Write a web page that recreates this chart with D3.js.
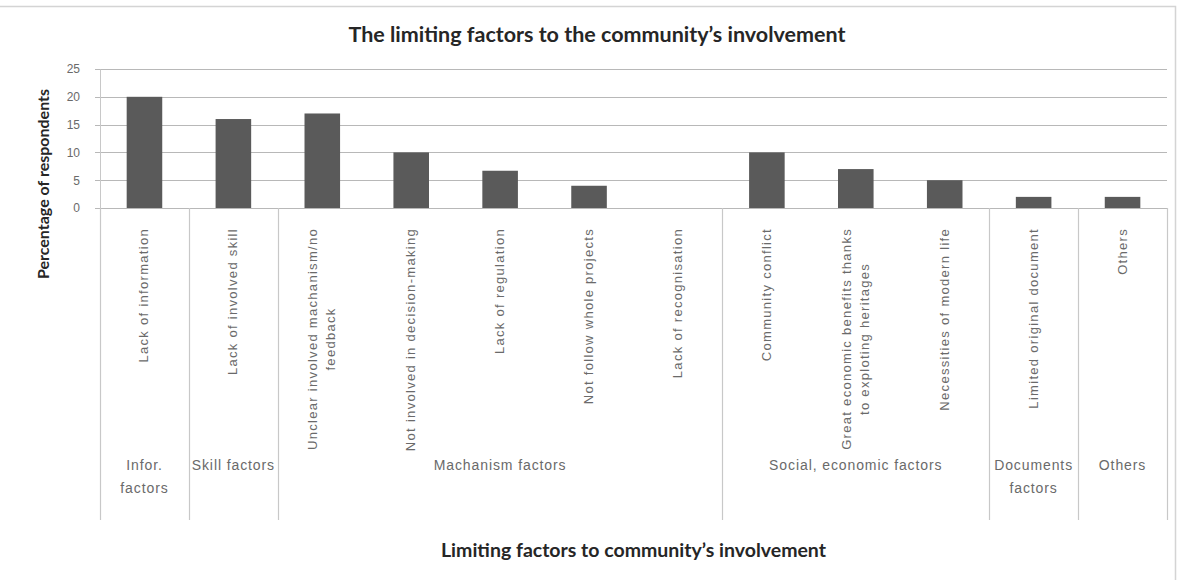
<!doctype html>
<html lang="en">
<head>
<meta charset="UTF-8">
<title>Limiting factors</title>
<script src="https://cdn.jsdelivr.net/npm/d3@7"></script>
<style>
    body { margin: 0; background: #fff; }
    svg { display: block; }
    .title { font-family: Lato, "Open Sans", sans-serif; font-weight: bold; fill: #262626; }
    .cat, .grp, .tick text { font-family: "Liberation Sans", Arial, sans-serif; fill: #6a6a6a; }
</style>
</head>
<body>
<script>
    var w = 1178, h = 580;
    var margin = {top: 69, left: 100, right: 11, bottom: 372};

    // categories (level 1), with line breaks
    var categories = [
        ["Lack of information"],
        ["Lack of involved skill"],
        ["Unclear involved machanism/no", "feedback"],
        ["Not involved in decision-making"],
        ["Lack of regulation"],
        ["Not follow whole projects"],
        ["Lack of recognisation"],
        ["Community conflict"],
        ["Great economic benefits thanks", "to exploting heritages"],
        ["Necessities of modern life"],
        ["Limited original document"],
        ["Others"]
    ];
    var values = [20, 16, 17, 10, 6.7, 4, 0, 10, 7, 5, 2, 2];

    // groups (level 2): label lines and how many categories they span
    var groupLabels = [["Infor.", "factors"], ["Skill factors"], ["Machanism factors"],
        ["Social, economic factors"], ["Documents", "factors"], ["Others"]];
    var groupSizes = [1, 1, 5, 3, 1, 1];
    var yTicks = [0, 5, 10, 15, 20, 25];

    var svg = d3.select("body").append("svg").attr("width", w).attr("height", h);

    // chart border (top + right)
    svg.append("path")
        .attr("d", "M0,6.5H1175.5V580")
        .attr("fill", "none").attr("stroke", "#d4d4d4").attr("stroke-width", 1.5);

    var x0 = margin.left, x1 = w - margin.right;
    var yBottom = h - margin.bottom;

    var x = d3.scaleBand()
        .domain(d3.range(categories.length))
        .range([x0, x1])
        .paddingInner(0.6).paddingOuter(0.3);

    var y = d3.scaleLinear().domain([0, 25]).range([yBottom, margin.top]);

    // gridlines
    svg.append("g").selectAll("line").data(yTicks).enter().append("line")
        .attr("x1", x0 - 5).attr("x2", x1)
        .attr("y1", function (d) { return Math.round(y(d)) + 0.5; })
        .attr("y2", function (d) { return Math.round(y(d)) + 0.5; })
        .attr("stroke", "#b8b8b8").attr("stroke-width", 1.2);

    // y axis
    var yAxis = d3.axisLeft(y).tickValues(yTicks).tickSize(0).tickPadding(20);
    var ga = svg.append("g").attr("transform", "translate(" + x0 + ",0)").call(yAxis);
    ga.select(".domain").attr("stroke", "#c8c8c8");
    ga.selectAll("text").attr("font-size", 12);

    // bars
    svg.append("g").selectAll("rect").data(values).enter().append("rect")
        .attr("x", function (d, i) { return x(i); })
        .attr("width", x.bandwidth())
        .attr("y", function (d) { return y(d); })
        .attr("height", function (d) { return y(0) - y(d); })
        .attr("fill", "#5a5a5a");

    // category labels (rotated)
    var step = x.step();
    var lineGap = 18;
    var catG = svg.append("g");
    categories.forEach(function (lines, i) {
        var cx = x(i) + x.bandwidth() / 2;
        var t = catG.append("text").attr("class", "cat").attr("font-size", 13)
            .attr("letter-spacing", "1.3px");
        lines.forEach(function (l, k) {
            t.append("tspan").attr("x", 0).attr("dy", k === 0 ? 0 : lineGap).text(l);
        });
        var maxLen = 0;
        t.selectAll("tspan").each(function () {
            maxLen = Math.max(maxLen, this.getComputedTextLength());
        });
        var shift = (lines.length - 1) * lineGap / 2;
        t.attr("text-anchor", "middle")
            .attr("transform", "translate(" + (cx + 4 - shift) + "," + (yBottom + 20 + maxLen / 2) + ") rotate(-90)");
    });

    // group separators and labels
    var gTop = yBottom, gBottom = 520;
    var bounds = [0];
    groupSizes.forEach(function (s) { bounds.push(bounds[bounds.length - 1] + s); });
    var bx = function (k) { return x0 + k * step; };
    svg.append("g").selectAll("line").data(bounds).enter().append("line")
        .attr("x1", function (k) { return Math.round(bx(k)) + 0.5; })
        .attr("x2", function (k) { return Math.round(bx(k)) + 0.5; })
        .attr("y1", gTop).attr("y2", gBottom)
        .attr("stroke", "#c8c8c8").attr("stroke-width", 1.2);

    groupLabels.forEach(function (lines, g) {
        var cx = (bx(bounds[g]) + bx(bounds[g + 1])) / 2;
        var t = svg.append("text").attr("class", "grp").attr("font-size", 14)
            .attr("letter-spacing", "0.9px")
            .attr("text-anchor", "middle").attr("x", cx).attr("y", 470);
        lines.forEach(function (l, k) {
            t.append("tspan").attr("x", cx).attr("dy", k === 0 ? 0 : 23).text(l);
        });
    });

    // titles
    svg.append("text").attr("class", "title").attr("font-size", 21.5)
        .attr("x", 597).attr("y", 42).attr("text-anchor", "middle")
        .text("The limiting factors to the community\u2019s involvement");

    svg.append("text").attr("class", "title").attr("font-size", 16)
        .attr("text-anchor", "middle")
        .attr("transform", "translate(49,184) rotate(-90)")
        .text("Percentage of respondents");

    svg.append("text").attr("class", "title").attr("font-size", 19.5)
        .attr("x", (x0 + x1) / 2).attr("y", 557).attr("text-anchor", "middle")
        .text("Limiting factors to community\u2019s involvement");
</script>
</body>
</html>
